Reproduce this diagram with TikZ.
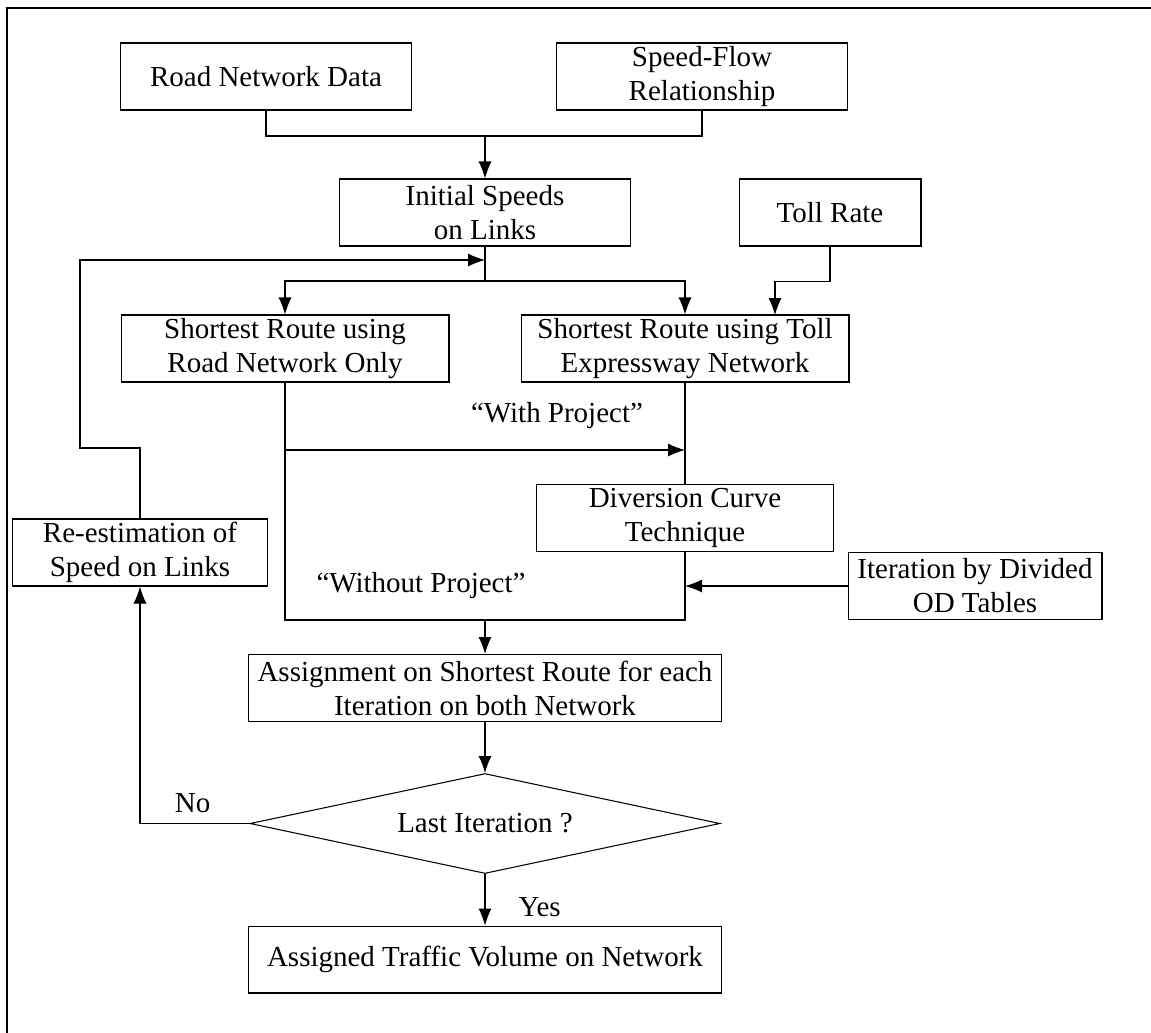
\documentclass[tikz,border=0pt]{standalone}
\usepackage{fontspec}
\setmainfont{Liberation Serif}
\usetikzlibrary{shapes, arrows.meta}

\begin{document}
\begin{tikzpicture}[x=0.02cm, y=-0.02cm, line width=0.6pt, every node/.style={font=\fontsize{16.5}{19.3}\selectfont}, >={Latex[length=0.34cm, width=0.26cm]}]
  % Define styles
  \tikzstyle{box} = [rectangle, draw=black, minimum height=1.34cm, inner sep=0pt, align=center]
  \tikzstyle{decision} = [diamond, draw=black, aspect=4.7, minimum width=9.4cm, minimum height=2cm, inner sep=0pt]
  \tikzstyle{tag} = [inner sep=2pt]

  \useasboundingbox (0,0) rectangle (1151,1032);
  \draw[line width=1.2pt] (7,1040) -- (7,8) -- (1160,8);

  % Nodes
  \node[box, minimum width=5.82cm] (roaddata) at (266,76.5) {Road Network Data};
  \node[box, minimum width=5.82cm] (speedflow) at (702,76.5) {Speed-Flow\\Relationship};
  \node[box, minimum width=5.82cm] (initspeed) at (485,212.5) {Initial Speeds\\on Links};
  \node[box, minimum width=3.64cm] (tollrate) at (830,212.5) {Toll Rate};
  \node[box, minimum width=6.56cm] (sroad) at (285,348.5) {Shortest Route using\\Road Network Only};
  \node[box, minimum width=6.56cm] (stoll) at (685,348.5) {Shortest Route using Toll\\Expressway Network};
  \node[box, minimum width=5.94cm] (divert) at (685,518) {Diversion Curve\\Technique};
  \node[box, minimum width=5.08cm] (iterod) at (975,586) {Iteration by Divided\\OD Tables};
  \node[box, minimum width=5.1cm] (reest) at (140,552.5) {Re-estimation of\\Speed on Links};
  \node[box, minimum width=9.46cm] (assign) at (485,688) {Assignment on Shortest Route for each\\Iteration on both Network};
  \node[decision] (last) at (485,823.5) {Last Iteration ?};
  \node[box, minimum width=9.46cm] (assigned) at (485,959.5) {Assigned Traffic Volume on Network};

  % Arrows
  \coordinate (merge) at (485,136);
  \draw (roaddata.south) |- (merge) -| (speedflow.south);
  \draw[->] (merge) -- (initspeed);
  \coordinate (split) at (485,281);
  \draw (initspeed.south) -- (split);
  \draw[->] (split) -| (sroad.north);
  \draw[->] (split) -| (stoll.north);
  \coordinate (tollin) at (775,315);
  \draw[->] (tollrate.south) -- ++(0,35) -| (tollin);
  \coordinate (back) at (485,260);
  \draw[->] (reest.north) |- (80,448) |- (back);
  \coordinate (wp) at (685,450);
  \draw (stoll.south) -- (divert.north);
  \draw[->] (sroad.south |- wp) -- node[tag, pos=0.68, above=0.35cm] {``With Project''} (wp);
  \coordinate (join) at (485,620);
  \draw (sroad.south) |- node[tag, pos=0.84, above=0.35cm] {``Without Project''} (join);
  \draw (divert.south) |- (join);
  \draw[->] (iterod.west) -- (iterod.west -| divert.south);
  \draw[->] (join) -- (assign);
  \draw[->] (assign) -- (last);
  \draw[->] (last) -- node[tag, pos=0.64, right=0.59cm] {Yes} (assigned);
  \draw[->] (last.west) -| node[tag, pos=0.26, above=0.14cm] {No} (reest.south);
\end{tikzpicture}
\end{document}
